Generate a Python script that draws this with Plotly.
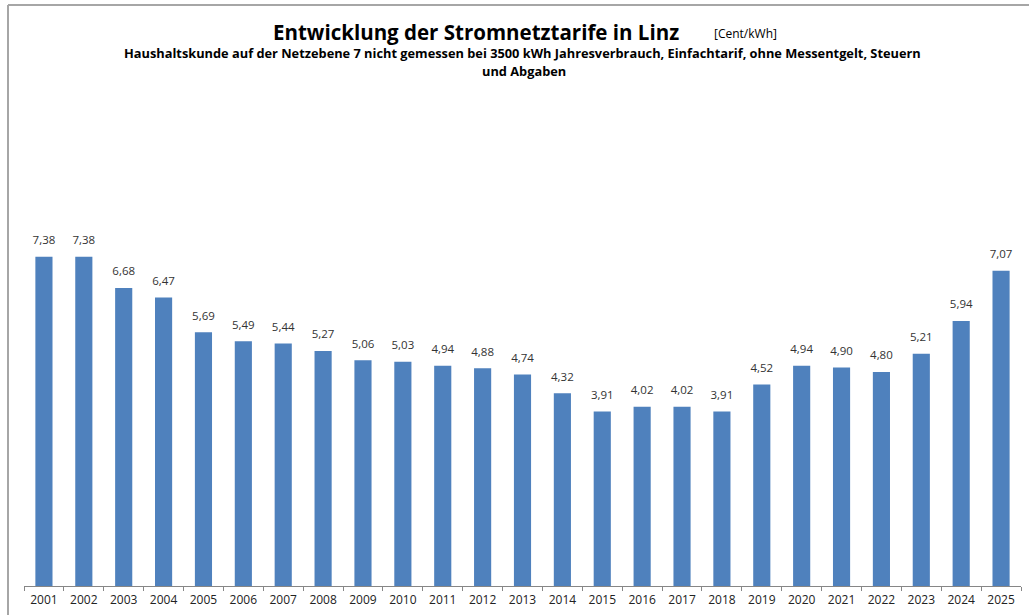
import plotly.graph_objects as go

years = [str(y) for y in range(2001, 2026)]
values = [7.38, 7.38, 6.68, 6.47, 5.69, 5.49, 5.44, 5.27, 5.06, 5.03, 4.94, 4.88,
          4.74, 4.32, 3.91, 4.02, 4.02, 3.91, 4.52, 4.94, 4.90, 4.80, 5.21, 5.94, 7.07]
labels = [f"{v:.2f}".replace(".", ",") for v in values]

W, H = 1029, 615
L, R, T, B = 24, 8, 140, 29
PW, PH = W - L - R, H - T - B

def px(x):
    return (x - L) / PW

def py(y):
    return (H - B - y) / PH

FONT = "Open Sans"

fig = go.Figure()
fig.add_trace(go.Bar(
    x=years, y=values,
    marker=dict(color="#4f81bd", line=dict(width=0)),
    width=0.43, hoverinfo="skip",
))
fig.add_trace(go.Scatter(
    x=years, y=values, text=labels, mode="markers+text", textposition="top center",
    marker=dict(size=14, opacity=0), cliponaxis=False, hoverinfo="skip",
    textfont=dict(family=FONT, size=11.5, color="#333333"),
))

fig.update_layout(
    width=W, height=H,
    margin=dict(l=L, r=R, t=T, b=B),
    paper_bgcolor="white", plot_bgcolor="white",
    showlegend=False,
    xaxis=dict(type="category", range=[-0.5, len(years) - 0.5], autorange=False,
               showgrid=False, showline=True, linecolor="#868686", linewidth=1,
               ticks="outside", ticklen=4, tickcolor="#868686", tickson="boundaries",
               ticklabelstandoff=3,
               tickfont=dict(family=FONT, size=12, color="#222222")),
    yaxis=dict(range=[0, 10], visible=False),
    font=dict(family=FONT),
    shapes=[
        dict(type="line", xref="paper", yref="paper", x0=px(8), x1=px(1035), y0=py(5), y1=py(5),
             line=dict(color="#a6a6a6", width=2)),
        dict(type="line", xref="paper", yref="paper", x0=px(8), x1=px(8), y0=py(5), y1=py(620),
             line=dict(color="#a6a6a6", width=2)),
    ],
    annotations=[
        dict(text="<b>Entwicklung der Stromnetztarife in Linz</b>", xref="paper", yref="paper",
             x=px(476), y=py(32), xanchor="center", yanchor="middle", showarrow=False,
             font=dict(family=FONT, size=20.5, color="black")),
        dict(text="[Cent/kWh]", xref="paper", yref="paper",
             x=px(712), y=py(34), xanchor="left", yanchor="middle", showarrow=False,
             font=dict(family=FONT, size=12, color="black")),
        dict(text="<b>Haushaltskunde auf der Netzebene 7 nicht gemessen bei 3500 kWh Jahresverbrauch, Einfachtarif, ohne Messentgelt, Steuern</b>",
             xref="paper", yref="paper",
             x=px(522), y=py(53), xanchor="center", yanchor="middle", showarrow=False,
             font=dict(family=FONT, size=12.8, color="black")),
        dict(text="<b>und Abgaben</b>", xref="paper", yref="paper",
             x=px(524), y=py(71), xanchor="center", yanchor="middle", showarrow=False,
             font=dict(family=FONT, size=12.8, color="black")),
    ],
)

fig.write_html("out.html", config={"displayModeBar": False},
               post_script="document.body.style.margin='0';")
